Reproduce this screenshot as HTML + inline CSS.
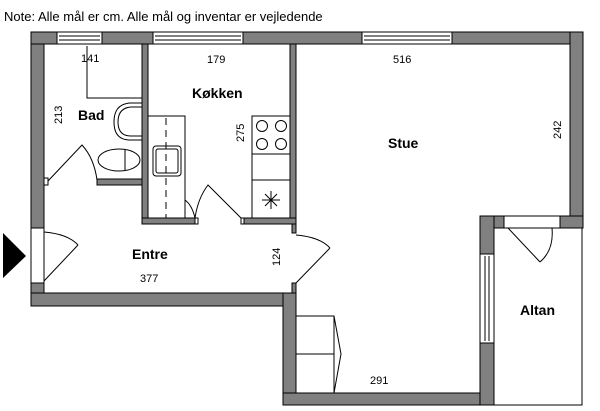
<!DOCTYPE html>
<html><head><meta charset="utf-8"><style>
body{margin:0;background:#fff;width:600px;height:411px;overflow:hidden}
svg{display:block}
text{font-family:"Liberation Sans",sans-serif;fill:#000}
.b{font-weight:bold;font-size:14px}
.d{font-size:11px}
</style></head><body>
<svg width="600" height="411" viewBox="0 0 600 411">
<text x="4" y="21" font-size="13">Note: Alle mål er cm. Alle mål og inventar er vejledende</text>
<g fill="#808080" stroke="#000" stroke-width="1">
<rect x="31" y="32" width="26" height="12"/>
<rect x="102" y="32" width="51" height="12"/>
<rect x="243" y="32" width="119" height="12"/>
<rect x="452" y="32" width="131" height="12"/>
<rect x="31" y="44" width="13" height="184"/>
<rect x="31" y="283" width="13" height="23"/>
<rect x="31" y="293" width="265" height="13"/>
<rect x="283" y="293" width="13" height="112"/>
<rect x="283" y="393" width="211" height="12"/>
<rect x="570" y="32" width="13" height="196"/>
<rect x="480" y="216" width="24" height="12"/>
<rect x="560" y="216" width="23" height="12"/>
<rect x="480" y="216" width="14" height="38"/>
<rect x="480" y="343" width="14" height="62"/>
<rect x="142" y="44" width="6" height="180"/>
<rect x="290" y="44" width="6" height="180"/>
<rect x="292" y="224" width="4" height="9"/>
<rect x="292" y="283" width="4" height="10"/>
<rect x="142" y="218" width="53" height="6"/>
<rect x="244" y="218" width="52" height="6"/>
<rect x="97" y="179" width="45" height="6"/>
</g>
<g fill="none" stroke="#000" stroke-width="1">
<rect x="57" y="32" width="45" height="12"/><line x1="59" y1="36" x2="100" y2="36"/><line x1="59" y1="40" x2="100" y2="40"/>
<rect x="153" y="32" width="90" height="12"/><line x1="155" y1="36" x2="241" y2="36"/><line x1="155" y1="40" x2="241" y2="40"/>
<rect x="362" y="32" width="90" height="12"/><line x1="364" y1="36" x2="450" y2="36"/><line x1="364" y1="40" x2="450" y2="40"/>
<rect x="480" y="254" width="14" height="89"/><line x1="485" y1="256" x2="485" y2="341"/><line x1="489" y1="256" x2="489" y2="341"/>
<rect x="31" y="228" width="13" height="55"/>
<path d="M44 281 L78 245 M44 232 Q68 234 78 245"/>
<path d="M296 283 L330 248 M296 235 Q320 237 330 248"/>
<rect x="504" y="216" width="56" height="12"/>
<path d="M508 228 L540 262 M552 228 Q554 250 540 262"/>
<path d="M582 228 L582 405 L494 405"/>
<rect x="44" y="178" width="4" height="7"/>
<path d="M48 181 L82 145 Q94 158 97 180"/>
<path d="M87 46 L87 98 L142 98"/>
<path d="M142 103 L130 103 Q114 104 114 122 Q114 140 130 140 L142 140"/>
<path d="M142 107 L131 107 Q118 108 118 122 Q118 136 131 136 L142 136"/>
<ellipse cx="119" cy="160" rx="21" ry="11"/>
<line x1="125" y1="149.5" x2="125" y2="170.5"/>
<path d="M148 116 L185 116 L185 218"/>
<line x1="166" y1="118" x2="166" y2="218" stroke-dasharray="7,5"/>
<rect x="153" y="146" width="28" height="30" rx="3"/>
<rect x="156" y="149" width="22" height="24" rx="2"/>
<path d="M185 200 Q192 205 195 218"/>
<rect x="195" y="218" width="3" height="6"/>
<rect x="241" y="218" width="3" height="6"/>
<path d="M241 218 L208 185 Q198 198 195 218"/>
<rect x="252" y="116" width="38" height="102"/>
<line x1="252" y1="154" x2="290" y2="154"/>
<line x1="252" y1="180" x2="290" y2="180"/>
<circle cx="262" cy="126" r="5.5"/><circle cx="281" cy="126" r="5.5"/>
<circle cx="262" cy="144" r="5.5"/><circle cx="281" cy="144" r="5.5"/>
<path d="M271 191 L271 209 M262 200 L280 200 M265 194 L277 206 M277 194 L265 206"/>
<path d="M296 316 L334 316 L341 354 L334 393 M296 354 L334 354 M334 316 L334 393"/>
</g>
<polygon points="3,233 26,256 3,278" fill="#000"/>
<text class="b" x="78" y="120">Bad</text>
<text class="b" x="192" y="98">Køkken</text>
<text class="b" x="388" y="148">Stue</text>
<text class="b" x="132" y="259">Entre</text>
<text class="b" x="520" y="315">Altan</text>
<text class="d" x="81" y="62">141</text>
<text class="d" x="207" y="63">179</text>
<text class="d" x="393" y="63">516</text>
<text class="d" x="140" y="282">377</text>
<text class="d" x="370" y="384">291</text>
<text class="d" transform="translate(62,124) rotate(-90)">213</text>
<text class="d" transform="translate(244,142) rotate(-90)">275</text>
<text class="d" transform="translate(561,139) rotate(-90)">242</text>
<text class="d" transform="translate(280,266) rotate(-90)">124</text>
</svg>
</body></html>
